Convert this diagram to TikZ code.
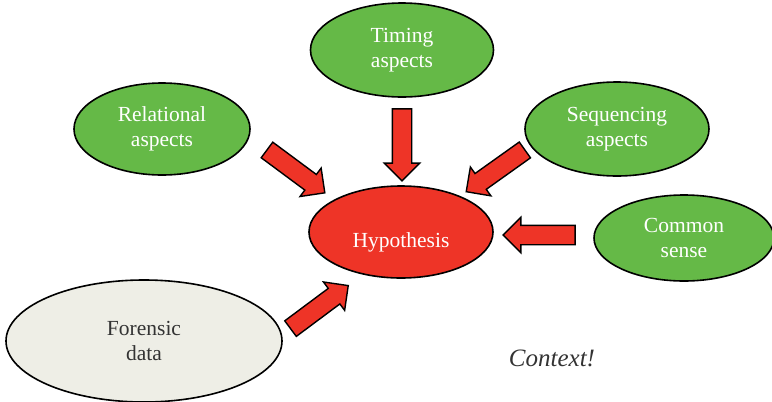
\documentclass[tikz,border=0pt]{standalone}
\usepackage{fontspec}
\setmainfont{Liberation Serif}
\usetikzlibrary{shapes.geometric,shapes.arrows}
\definecolor{leafgreen}{HTML}{65B947}
\definecolor{hotred}{HTML}{EE3427}
\definecolor{paper}{HTML}{EEEEE6}
\definecolor{inkgray}{HTML}{333333}
\tikzset{
  blob/.style={ellipse, draw=black, line width=1.6pt, inner sep=0pt,
    align=center, font=\fontsize{21.5}{25.5}\selectfont},
  factor/.style={blob, fill=leafgreen, text=white},
  hypo/.style={blob, fill=hotred, text=white, text height=30pt, text depth=0pt},
  datum/.style={blob, fill=paper, text=inkgray},
  blockarrow/.style={single arrow, draw=black, fill=hotred, line width=1.4pt,
    inner sep=9pt, single arrow head extend=8pt, minimum height=72pt,
    single arrow tip angle=90, sloped, allow upside down}
}
\begin{document}
\begin{tikzpicture}[x=1pt,y=-1pt]
\useasboundingbox (0,0) rectangle (772,402);

% ellipses
\node[factor, minimum width=183pt, minimum height=94pt] (timing) at (402,50) {Timing\\aspects};
\node[factor, minimum width=176pt, minimum height=92pt] (relational) at (162,129) {Relational\\aspects};
\node[factor, minimum width=184pt, minimum height=94pt] (sequencing) at (617,129) {Sequencing\\aspects};
\node[hypo, minimum width=184pt, minimum height=92pt] (hyp) at (401,232) {Hypothesis};
\node[factor, minimum width=180pt, minimum height=86pt] (common) at (684,238) {Common\\sense};
\node[datum, minimum width=276pt, minimum height=122pt] (forensic) at (144,341) {Forensic\\data};

\node[font=\fontsize{25}{28}\selectfont\itshape, text=inkgray] (context) at (552,358) {Context!};

% arrow end points
\coordinate (relTail) at (263,147);
\coordinate (relTip) at (321,190);
\coordinate (timTail) at (402,104);
\coordinate (timTip) at (402,176);
\coordinate (seqTail) at (529,147);
\coordinate (seqTip) at (470,189);
\coordinate (comTail) at (580,235);
\coordinate (comTip) at (508,235);
\coordinate (forTail) at (286,332);
\coordinate (forTip) at (345,288);

% block arrows
\path (relTail) -- (relTip) node[midway, blockarrow] (relArrow) {};
\path (timTail) -- (timTip) node[midway, blockarrow] (timArrow) {};
\path (seqTail) -- (seqTip) node[midway, blockarrow] (seqArrow) {};
\path (comTail) -- (comTip) node[midway, blockarrow] (comArrow) {};
\path (forTail) -- (forTip) node[midway, blockarrow] (forArrow) {};
\end{tikzpicture}
\end{document}
